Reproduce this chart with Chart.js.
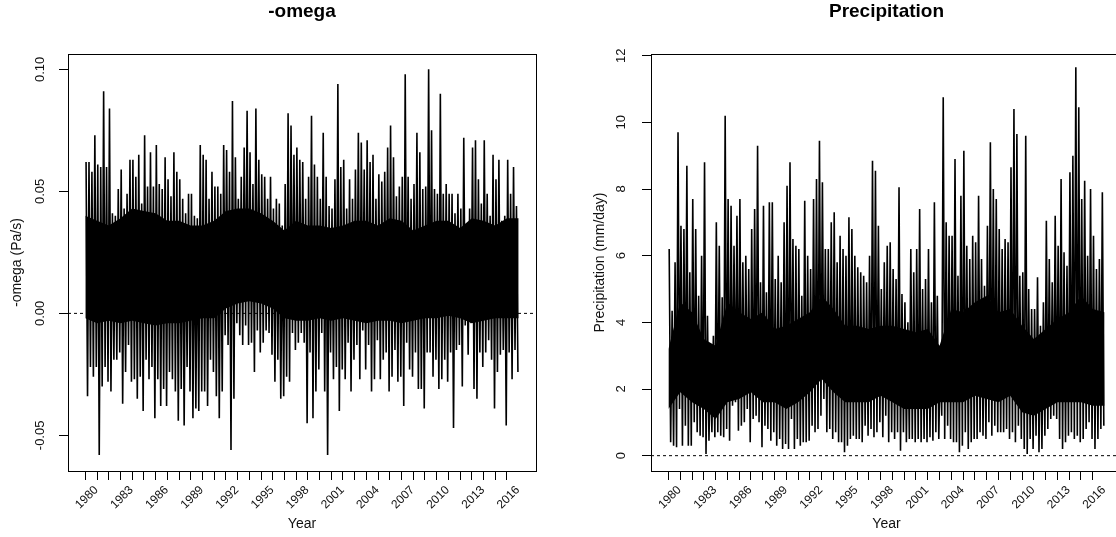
<!DOCTYPE html>
<html>
<head>
<meta charset="utf-8">
<script src="https://cdn.jsdelivr.net/npm/chart.js@4.4.1/dist/chart.umd.min.js"></script>
<style>
  html, body { margin: 0; padding: 0; background: #fff; overflow: hidden; width: 1116px; height: 537px; }
  .panel { position: absolute; top: 0; height: 537px; }
  #omegaPanel { left: 0; width: 558px; }
  #precipPanel { left: 558px; width: 564px; }
</style>
</head>
<body>
<div class="panel" id="omegaPanel"><canvas id="omegaChart" width="558" height="537"></canvas></div>
<div class="panel" id="precipPanel"><canvas id="precipChart" width="564" height="537"></canvas></div>
<script>
// daily series, summarised per quarter (1980 Q1 ... 2016 Q4): highest and lowest day
const firstYear = 1980;
const yearTicks = [1980, 1981, 1982, 1983, 1984, 1985, 1986, 1987, 1988, 1989, 1990, 1991,
  1992, 1993, 1994, 1995, 1996, 1997, 1998, 1999, 2000, 2001, 2002, 2003, 2004, 2005,
  2006, 2007, 2008, 2009, 2010, 2011, 2012, 2013, 2014, 2015, 2016];
// Jan 1 of each year 1980..2017, where the edges of the solid core were read
const bandYears = [...yearTicks, 2017];

const omegaHigh = [
  0.062, 0.062, 0.058, 0.073, 0.061, 0.060, 0.091, 0.060, 0.084, 0.041, 0.040, 0.051,
  0.059, 0.043, 0.049, 0.063, 0.063, 0.056, 0.065, 0.045, 0.073, 0.052, 0.066, 0.052,
  0.069, 0.053, 0.051, 0.064, 0.055, 0.048, 0.066, 0.058, 0.055, 0.047, 0.041, 0.049,
  0.049, 0.040, 0.039, 0.069, 0.065, 0.063, 0.047, 0.058, 0.052, 0.052, 0.049, 0.069,
  0.067, 0.058, 0.087, 0.064, 0.047, 0.056, 0.068, 0.083, 0.066, 0.053, 0.084, 0.063,
  0.057, 0.056, 0.047, 0.056, 0.043, 0.047, 0.045, 0.036, 0.053, 0.082, 0.077, 0.065,
  0.068, 0.063, 0.062, 0.047, 0.056, 0.081, 0.061, 0.056, 0.047, 0.074, 0.056, 0.044,
  0.043, 0.055, 0.094, 0.060, 0.063, 0.043, 0.055, 0.047, 0.059, 0.074, 0.070, 0.059,
  0.071, 0.062, 0.065, 0.047, 0.057, 0.054, 0.058, 0.068, 0.077, 0.064, 0.048, 0.052,
  0.056, 0.098, 0.056, 0.047, 0.053, 0.074, 0.066, 0.051, 0.052, 0.100, 0.075, 0.051,
  0.049, 0.090, 0.049, 0.053, 0.049, 0.049, 0.041, 0.049, 0.043, 0.072, 0.034, 0.043,
  0.068, 0.071, 0.055, 0.045, 0.071, 0.049, 0.040, 0.065, 0.055, 0.063, 0.038, 0.040,
  0.063, 0.049, 0.060, 0.044
];
const omegaLow = [
  -0.034, -0.022, -0.026, -0.022, -0.058, -0.030, -0.022, -0.028, -0.032, -0.019, -0.019, -0.016,
  -0.037, -0.024, -0.013, -0.028, -0.027, -0.035, -0.026, -0.040, -0.019, -0.027, -0.022, -0.043,
  -0.027, -0.038, -0.031, -0.038, -0.024, -0.027, -0.032, -0.044, -0.031, -0.046, -0.022, -0.032,
  -0.043, -0.039, -0.040, -0.032, -0.032, -0.038, -0.019, -0.024, -0.034, -0.043, -0.032, -0.009,
  -0.013, -0.056, -0.035, -0.004, -0.009, -0.013, -0.005, -0.013, -0.012, -0.024, -0.007, -0.016,
  -0.012, -0.007, -0.008, -0.017, -0.028, -0.019, -0.035, -0.034, -0.026, -0.028, -0.008, -0.015,
  -0.012, -0.008, -0.012, -0.045, -0.016, -0.043, -0.032, -0.023, -0.008, -0.032, -0.058, -0.016,
  -0.027, -0.022, -0.040, -0.023, -0.027, -0.012, -0.032, -0.019, -0.013, -0.027, -0.007, -0.023,
  -0.013, -0.032, -0.027, -0.011, -0.027, -0.019, -0.016, -0.032, -0.026, -0.015, -0.028, -0.026,
  -0.038, -0.012, -0.023, -0.026, -0.016, -0.031, -0.031, -0.039, -0.016, -0.016, -0.026, -0.019,
  -0.031, -0.027, -0.019, -0.028, -0.016, -0.047, -0.015, -0.013, -0.030, -0.005, -0.017, -0.004,
  -0.031, -0.035, -0.016, -0.022, -0.016, -0.011, -0.019, -0.039, -0.024, -0.017, -0.015, -0.046,
  -0.016, -0.027, -0.015, -0.024
];
const omegaBandTop = [
  0.040, 0.038, 0.036, 0.039, 0.043, 0.042, 0.041, 0.038, 0.038, 0.036, 0.036, 0.038, 0.042,
  0.043, 0.043, 0.041, 0.038, 0.034, 0.038, 0.036, 0.036, 0.035, 0.036, 0.038, 0.038, 0.036,
  0.039, 0.038, 0.034, 0.036, 0.038, 0.038, 0.035, 0.039, 0.038, 0.036, 0.039, 0.039
];
const omegaBandBottom = [
  -0.002, -0.004, -0.003, -0.004, -0.003, -0.004, -0.005, -0.004, -0.004, -0.003, -0.002, -0.002, 0.002,
  0.004, 0.005, 0.004, 0.002, -0.002, -0.003, -0.003, -0.002, -0.003, -0.002, -0.003, -0.004, -0.003,
  -0.003, -0.004, -0.003, -0.002, -0.002, -0.001, -0.002, -0.004, -0.003, -0.002, -0.002, -0.002
];

const precipHigh = [
  6.2, 4.35, 5.8, 9.7, 6.9, 6.8, 8.7, 5.5, 7.7, 6.8, 4.8, 6.0,
  8.8, 4.2, 2.7, 3.6, 7.0, 6.3, 4.75, 10.2, 7.7, 7.5, 6.3, 7.2,
  7.7, 5.8, 6.0, 5.6, 6.8, 7.4, 9.3, 5.2, 7.5, 4.9, 7.6, 7.6,
  5.3, 6.0, 5.2, 7.0, 8.1, 8.8, 6.5, 6.3, 6.2, 4.8, 7.65, 6.0,
  5.6, 7.7, 8.3, 9.45, 8.2, 6.2, 6.2, 7.0, 7.3, 5.8, 6.6, 6.2,
  6.0, 7.15, 6.8, 6.0, 5.65, 5.5, 5.4, 5.2, 6.0, 8.85, 8.55, 6.9,
  5.0, 5.8, 6.3, 6.4, 5.6, 5.3, 8.05, 4.85, 4.6, 4.0, 6.2, 5.5,
  6.2, 7.4, 5.0, 5.3, 6.2, 4.6, 7.6, 4.8, 3.1, 10.75, 7.0, 6.6,
  6.6, 8.9, 5.4, 7.8, 9.15, 6.3, 5.9, 6.6, 6.4, 7.8, 5.9, 5.1,
  6.9, 9.4, 8.0, 7.7, 6.8, 6.2, 6.5, 6.4, 8.65, 10.4, 9.65, 5.4,
  5.5, 9.6, 5.0, 4.4, 4.4, 5.35, 3.9, 4.6, 7.05, 5.9, 5.2, 7.2,
  6.3, 8.3, 6.1, 5.7, 8.5, 9.0, 11.65, 10.45, 7.7, 8.25, 6.0, 8.0,
  6.6, 5.6, 5.9, 7.9
];
const precipLow = [
  0.4, 0.3, 0.25, 1.4, 0.3, 0.9, 0.3, 0.3, 1.0, 0.7, 0.6, 0.55,
  0.05, 0.45, 0.7, 0.55, 0.7, 0.6, 0.55, 0.8, 0.45, 1.5, 1.6, 0.75,
  0.9, 1.0, 1.4, 0.4, 1.1, 1.2, 1.0, 0.25, 0.9, 0.8, 0.45, 0.7,
  0.3, 0.5, 0.2, 0.35, 0.2, 1.1, 0.2, 0.5, 0.3, 0.4, 0.4, 0.45,
  0.9, 0.7, 0.8, 1.2, 1.7, 0.7, 0.8, 0.5, 0.7, 0.4, 0.4, 0.1,
  0.3, 0.5, 0.6, 0.5, 0.5, 0.4, 0.9, 0.6, 0.8, 0.55, 0.7, 1.0,
  0.55, 1.2, 0.4, 0.7, 0.5, 0.7, 0.15, 0.7, 0.4, 0.5, 0.5, 0.4,
  0.5, 0.4, 0.5, 0.4, 0.55, 0.45, 0.7, 0.5, 1.2, 0.5, 0.9, 0.5,
  0.4, 0.4, 0.1, 0.3, 0.7, 0.2, 0.4, 0.5, 0.5, 0.7, 0.6, 0.5,
  1.0, 0.6, 0.9, 0.7, 0.7, 0.7, 0.8, 0.5, 0.7, 0.4, 0.9, 0.5,
  0.2, 0.05, 0.5, 0.2, 0.6, 0.1, 0.2, 0.6, 0.8, 1.1, 1.2, 1.1,
  0.5, 0.2, 0.4, 0.6, 0.7, 0.5, 0.6, 0.4, 0.5, 0.8, 1.0, 0.5,
  0.2, 0.5, 0.8, 0.9
];
const precipBandTop = [
  3.2, 4.6, 4.3, 3.5, 3.3, 4.6, 4.3, 4.1, 4.3, 3.8, 3.9, 4.1, 4.3,
  4.8, 4.4, 3.9, 3.9, 3.8, 3.9, 3.9, 3.8, 3.7, 3.8, 3.3, 4.4, 4.3,
  4.6, 4.8, 4.3, 4.4, 3.9, 3.5, 3.8, 4.1, 4.3, 4.8, 4.4, 4.3
];
const precipBandBottom = [
  1.4, 1.9, 1.6, 1.4, 1.1, 1.6, 1.7, 1.9, 1.6, 1.6, 1.4, 1.6, 1.9,
  2.3, 1.9, 1.6, 1.6, 1.6, 1.8, 1.6, 1.4, 1.4, 1.4, 1.6, 1.6, 1.6,
  1.8, 1.7, 1.6, 1.8, 1.3, 1.2, 1.4, 1.6, 1.6, 1.6, 1.5, 1.5
];

const omegaTicks = [-0.05, 0.00, 0.05, 0.10];
const precipTicks = [0, 2, 4, 6, 8, 10, 12];

const FONT = '"Liberation Sans", Arial, sans-serif';

// high then low inside each quarter, so the black line zigzags like the daily trace
function zigzag(high, low) {
  const pts = [];
  high.forEach((h, i) => {
    const t = firstYear + i / 4;
    pts.push({ x: t + 0.0625, y: h });
    pts.push({ x: t + 0.1875, y: low[i] });
  });
  return pts;
}

const band = vals => bandYears.map((yr, i) => ({ x: yr, y: vals[i] }));

// R style: full box around the plot region
const boxPlugin = {
  id: 'box',
  afterDraw(chart) {
    const a = chart.chartArea, ctx = chart.ctx;
    ctx.save();
    ctx.strokeStyle = '#000';
    ctx.lineWidth = 1;
    ctx.strokeRect(Math.round(a.left) + 0.5, Math.round(a.top) + 0.5,
      Math.round(a.right - a.left), Math.round(a.bottom - a.top));
    ctx.restore();
  }
};

// y tick labels written parallel to the axis
const yLabelPlugin = {
  id: 'yLabels',
  afterDraw(chart, args, opts) {
    const sc = chart.scales.y, ctx = chart.ctx;
    ctx.save();
    ctx.font = '13px ' + FONT;
    ctx.fillStyle = '#111';
    ctx.textAlign = 'center';
    ctx.textBaseline = 'middle';
    sc.ticks.forEach(t => {
      ctx.save();
      ctx.translate(opts.x, sc.getPixelForValue(t.value));
      ctx.rotate(-Math.PI / 2);
      ctx.fillText(opts.fmt(t.value), 0, 0);
      ctx.restore();
    });
    ctx.restore();
  }
};

function makeChart(id, cfg) {
  const xMin = 1978.52, xMax = 2018.48;
  return new Chart(document.getElementById(id), {
    type: 'line',
    data: {
      datasets: [
        {
          data: band(cfg.bandTop),
          borderWidth: 0,
          pointRadius: 0,
          backgroundColor: '#000',
          fill: '+1'
        },
        {
          data: band(cfg.bandBottom),
          borderWidth: 0,
          pointRadius: 0,
          fill: false
        },
        {
          data: zigzag(cfg.high, cfg.low),
          borderColor: '#000',
          borderWidth: 1.6,
          pointRadius: 0,
          tension: 0
        },
        {
          data: [{ x: xMin, y: 0 }, { x: xMax, y: 0 }],
          borderColor: '#000',
          borderWidth: 1,
          borderDash: [3, 3],
          pointRadius: 0
        }
      ]
    },
    options: {
      responsive: false,
      animation: false,
      events: [],
      layout: { padding: { left: 0, right: cfg.padRight, top: 0, bottom: 0 } },
      plugins: {
        legend: { display: false },
        tooltip: { enabled: false },
        title: {
          display: true,
          text: cfg.title,
          fullSize: false,
          color: '#000',
          font: { family: FONT, size: 19, weight: 'bold', lineHeight: 1.2 },
          padding: { top: 0, bottom: 31.2 }
        },
        yLabels: { x: cfg.yLabelX, fmt: cfg.fmt }
      },
      scales: {
        x: {
          type: 'linear',
          min: xMin,
          max: xMax,
          afterBuildTicks: sc => { sc.ticks = yearTicks.map(v => ({ value: v })); },
          afterFit: sc => { sc.height = 66; },
          border: { display: false },
          grid: { drawOnChartArea: false, drawTicks: true, tickLength: 9, color: '#000' },
          ticks: {
            autoSkip: false,
            minRotation: 45,
            maxRotation: 45,
            labelOffset: 11,
            padding: 3,
            color: '#111',
            font: { family: FONT, size: 12 },
            callback: v => ((v - firstYear) % 3 === 0 ? String(v) : '')
          },
          title: {
            display: true,
            text: 'Year',
            color: '#111',
            font: { family: FONT, size: 14 },
            padding: { top: 0, bottom: 4 }
          }
        },
        y: {
          min: cfg.yMin,
          max: cfg.yMax,
          afterBuildTicks: sc => { sc.ticks = cfg.ticks.map(v => ({ value: v })); },
          afterFit: sc => { sc.width = cfg.yWidth; },
          border: { display: false },
          grid: { drawOnChartArea: false, drawTicks: true, tickLength: 9, color: '#000' },
          ticks: { display: false },
          title: {
            display: true,
            text: cfg.yTitle,
            color: '#111',
            font: { family: FONT, size: 14 },
            padding: { top: cfg.yTitlePad, bottom: 0 }
          }
        }
      }
    },
    plugins: [boxPlugin, yLabelPlugin]
  });
}

makeChart('omegaChart', {
  title: '-omega',
  yTitle: '-omega (Pa/s)',
  high: omegaHigh,
  low: omegaLow,
  bandTop: omegaBandTop,
  bandBottom: omegaBandBottom,
  ticks: omegaTicks,
  yMin: -0.0646,
  yMax: 0.1063,
  yWidth: 68,
  padRight: 22,
  yLabelX: 40,
  yTitlePad: 9,
  fmt: v => v.toFixed(2)
});

makeChart('precipChart', {
  title: 'Precipitation',
  yTitle: 'Precipitation (mm/day)',
  high: precipHigh,
  low: precipLow,
  bandTop: precipBandTop,
  bandBottom: precipBandBottom,
  ticks: precipTicks,
  yMin: -0.46,
  yMax: 12.05,
  yWidth: 93,
  padRight: 0,
  yLabelX: 63,
  yTitlePad: 34,
  fmt: v => String(v)
});
</script>
</body>
</html>
